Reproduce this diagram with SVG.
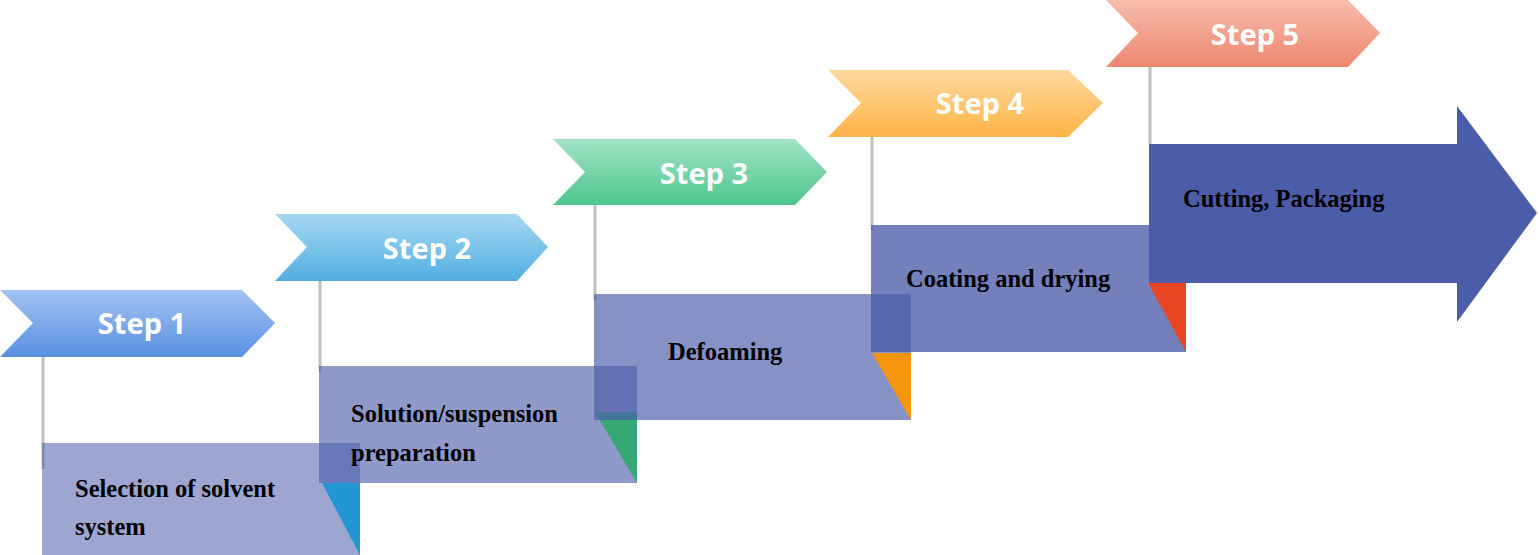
<svg xmlns="http://www.w3.org/2000/svg" width="1539" height="555" viewBox="0 0 1539 555">
<defs>
<linearGradient id="g1" x1="0" y1="0" x2="0" y2="1"><stop offset="0" stop-color="#A2C2F2"/><stop offset="1" stop-color="#5A90E0"/></linearGradient>
<linearGradient id="g2" x1="0" y1="0" x2="0" y2="1"><stop offset="0" stop-color="#A6D8F1"/><stop offset="1" stop-color="#52AEE2"/></linearGradient>
<linearGradient id="g3" x1="0" y1="0" x2="0" y2="1"><stop offset="0" stop-color="#A2E2C6"/><stop offset="1" stop-color="#4DC68C"/></linearGradient>
<linearGradient id="g4" x1="0" y1="0" x2="0" y2="1"><stop offset="0" stop-color="#FFD89E"/><stop offset="1" stop-color="#FFB446"/></linearGradient>
<linearGradient id="g5" x1="0" y1="0" x2="0" y2="1"><stop offset="0" stop-color="#F7BCAC"/><stop offset="1" stop-color="#EE8770"/></linearGradient>
</defs>
<style>
.step{font-family:"Noto Sans","Open Sans",sans-serif;font-weight:bold;font-size:29px;fill:#FFFFFF;text-anchor:middle}
.lbl{font-family:"Liberation Serif","Times New Roman",serif;font-weight:bold;font-size:24.5px;fill:#000000}
.stem{stroke:#BFBFBF;stroke-width:3;fill:none}
.box{fill:#4B5CA9}
</style>
<g id="connectors">
<line class="stem" x1="43" y1="357" x2="43" y2="469"/>
<line class="stem" x1="320" y1="281" x2="320" y2="372"/>
<line class="stem" x1="595" y1="205" x2="595" y2="300"/>
<line class="stem" x1="872" y1="137" x2="872" y2="230"/>
<line class="stem" x1="1150" y1="67" x2="1150" y2="144"/>
</g>
<g id="step1">
<polygon points="0,290 242,290 275,323 242,357 0,357 33,323" fill="url(#g1)"/>
<text class="step" x="142" y="334">Step 1</text>
</g>
<g id="step2">
<polygon points="275,214 517,214 548,247 517,281 275,281 307,247" fill="url(#g2)"/>
<text class="step" x="427" y="259">Step 2</text>
</g>
<g id="step3">
<polygon points="553,139 795,139 827,172 795,205 553,205 585,172" fill="url(#g3)"/>
<text class="step" x="704" y="184">Step 3</text>
</g>
<g id="step4">
<polygon points="828,70 1068,70 1103,103 1068,137 828,137 861,103" fill="url(#g4)"/>
<text class="step" x="980" y="114">Step 4</text>
</g>
<g id="step5">
<polygon points="1106,0 1348,0 1380,33 1348,67 1106,67 1138,33" fill="url(#g5)"/>
<text class="step" x="1255" y="45">Step 5</text>
</g>
<g id="box1">
<rect class="box" x="42" y="443" width="318" height="112" opacity="0.55"/>
<polygon points="322,483 360,483 360,555" fill="#2196D3"/>
<text class="lbl" x="75" y="497">Selection of solvent</text>
<text class="lbl" x="75" y="535">system</text>
</g>
<g id="box2">
<rect class="box" x="319" y="366" width="318" height="117" opacity="0.62"/>
<polygon points="595,412 637,412 637,483" fill="#36A873"/>
<text class="lbl" x="351" y="422">Solution/suspension</text>
<text class="lbl" x="351" y="461">preparation</text>
</g>
<g id="box3">
<rect class="box" x="594" y="294" width="317" height="126" opacity="0.67"/>
<polygon points="872,353 911,353 911,420" fill="#F7960E"/>
<text class="lbl" x="668" y="360">Defoaming</text>
</g>
<g id="box4">
<rect class="box" x="871" y="225" width="315" height="127" opacity="0.78"/>
<polygon points="1148,283 1186,283 1186,352" fill="#E84522"/>
<text class="lbl" x="906" y="287">Coating and drying</text>
</g>
<g id="box5">
<polygon class="box" points="1149,144 1457,144 1457,106 1537,213 1457,322 1457,283 1149,283"/>
<text class="lbl" x="1183" y="207">Cutting, Packaging</text>
</g>
</svg>
